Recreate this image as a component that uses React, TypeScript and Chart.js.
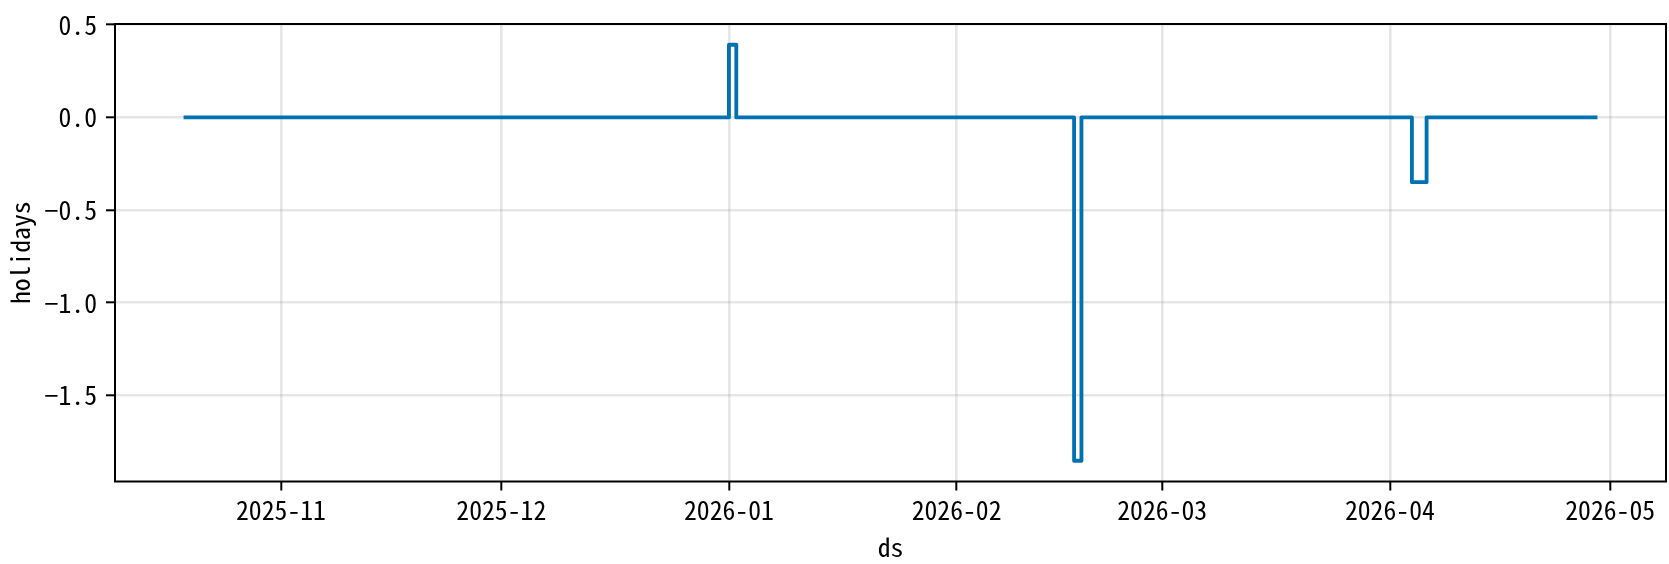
import React, { useEffect, useRef } from "react";
import { Chart, registerables } from "chart.js";

Chart.register(...registerables);

// Step breakpoints of the holidays component (value holds until the next date)
const dates = [
  "2025-10-19",
  "2026-01-01",
  "2026-01-02",
  "2026-02-17",
  "2026-02-18",
  "2026-04-04",
  "2026-04-06",
  "2026-04-29",
];
const holidays = [0, 0.392, 0, -1.852, 0, -0.349, 0, 0];

const xTickLabels = ["2025-11", "2025-12", "2026-01", "2026-02", "2026-03", "2026-04", "2026-05"];
const yTickValues = [0.5, 0.0, -0.5, -1.0, -1.5];

const xTitle = "ds";
const yTitle = "holidays";

const DAY_MS = 86400000;
const toDay = (s: string) =>
  Date.UTC(+s.slice(0, 4), +s.slice(5, 7) - 1, s.length > 7 ? +s.slice(8, 10) : 1) / DAY_MS;

const FONT = "'Noto Sans Mono CJK JP', 'Noto Sans CJK JP', sans-serif";
const FS = 25.7;

const W = 1669;
const H = 564;

const framePlugin = {
  id: "frame",
  afterDraw(chart: any) {
    const { ctx, chartArea } = chart;
    ctx.save();
    ctx.strokeStyle = "#000";
    ctx.lineWidth = 2;
    ctx.strokeRect(chartArea.left, chartArea.top, chartArea.right - chartArea.left, chartArea.bottom - chartArea.top);
    ctx.restore();
  },
};

export default function App() {
  const ref = useRef<HTMLCanvasElement | null>(null);

  useEffect(() => {
    if (!ref.current) return;
    const xs = dates.map(toDay);
    const start = xs[0];
    const end = xs[xs.length - 1];
    const span = end - start;
    const ySpan = Math.max(...holidays) - Math.min(...holidays);

    const chart = new Chart(ref.current, {
      type: "line",
      data: {
        datasets: [
          {
            data: xs.map((x, i) => ({ x, y: holidays[i] })),
            borderColor: "#0072B2",
            borderWidth: 3.85,
            pointRadius: 0,
            stepped: "before",
            fill: false,
            borderCapStyle: "square",
            borderJoinStyle: "round",
          },
        ],
      },
      options: {
        animation: false,
        responsive: false,
        events: [],
        layout: { padding: { top: 24, right: 3, left: 0, bottom: 0 } },
        plugins: { legend: { display: false }, tooltip: { enabled: false } },
        scales: {
          x: {
            type: "linear",
            min: start - 0.05 * span,
            max: end + 0.05 * span,
            afterBuildTicks: (scale: any) => {
              scale.ticks = xTickLabels.map((l) => ({ value: toDay(l) }));
            },
            afterFit: (scale: any) => {
              scale.height = 82.5;
            },
            ticks: {
              autoSkip: false,
              maxRotation: 0,
              minRotation: 0,
              padding: 7,
              color: "#000",
              font: { family: FONT, size: FS, lineHeight: 1 },
              callback: (_v: any, i: number) => xTickLabels[i],
            },
            grid: {
              color: "rgba(128,128,128,0.2)",
              lineWidth: 2.6,
              drawTicks: true,
              tickLength: 9,
              tickColor: "#000",
              tickWidth: 2,
            },
            border: { display: false },
            title: {
              display: true,
              text: xTitle,
              color: "#000",
              font: { family: FONT, size: FS, lineHeight: 1 },
              padding: { top: 0, bottom: 4 },
            },
          },
          y: {
            type: "linear",
            min: Math.min(...holidays) - 0.05 * ySpan,
            max: Math.max(...holidays) + 0.05 * ySpan,
            afterBuildTicks: (scale: any) => {
              scale.ticks = yTickValues.map((v) => ({ value: v }));
            },
            afterFit: (scale: any) => {
              scale.width = 115;
            },
            ticks: {
              padding: 9,
              color: "#000",
              font: { family: FONT, size: FS, lineHeight: 1 },
              callback: (v: any) => Number(v).toFixed(1).replace("-", "\u2212"),
            },
            grid: {
              color: "rgba(128,128,128,0.2)",
              lineWidth: 2.6,
              drawTicks: true,
              tickLength: 9,
              tickColor: "#000",
              tickWidth: 2,
            },
            border: { display: false },
            title: {
              display: true,
              text: yTitle,
              color: "#000",
              font: { family: FONT, size: FS, lineHeight: 1 },
              padding: { top: 7, bottom: 0 },
            },
          },
        },
      },
      plugins: [framePlugin],
    } as any);

    return () => chart.destroy();
  }, []);

  return (
    <div style={{ position: "absolute", left: 0, top: 0, width: W, height: H, background: "#fff" }}>
      <canvas ref={ref} width={W} height={H} style={{ width: W, height: H, display: "block" }} />
    </div>
  );
}
